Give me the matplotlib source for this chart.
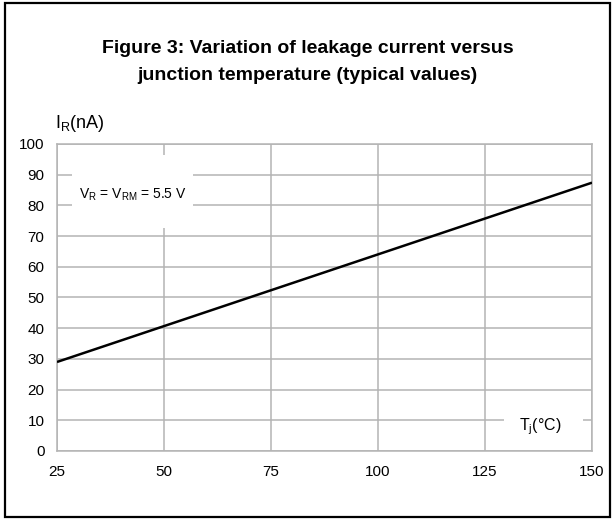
import matplotlib
matplotlib.use("Agg")
import matplotlib.pyplot as plt
from matplotlib.patches import Rectangle

plt.rcParams["font.family"] = ["Liberation Sans", "DejaVu Sans"]
plt.rcParams["mathtext.fontset"] = "custom"
plt.rcParams["mathtext.rm"] = "Liberation Sans"
plt.rcParams["mathtext.it"] = "Liberation Sans"

# data
tj = [25, 150]
ir = [29, 87.4]
x_ticks = [25, 50, 75, 100, 125, 150]
y_ticks = [0, 10, 20, 30, 40, 50, 60, 70, 80, 90, 100]

GRID = "#b4b4b4"

fig = plt.figure(figsize=(6.15, 5.2), dpi=100)
ax = fig.add_axes([0.0927, 0.1327, 0.8699, 0.5904])

ax.plot(tj, ir, color="black", lw=1.8, zorder=3, solid_capstyle="butt")
ax.set_xlim(25, 150)
ax.set_ylim(0, 100)
ax.set_xticks(x_ticks)
ax.set_yticks(y_ticks)
ax.tick_params(length=0, labelsize=11)
ax.tick_params(axis="x", pad=10)
ax.tick_params(axis="y", pad=9)
ax.grid(True, color=GRID, lw=1.1)
ax.set_axisbelow(True)
for sp in ax.spines.values():
    sp.set_color(GRID)
    sp.set_linewidth(1.1)

# white boxes behind the in-plot labels
ax.add_patch(Rectangle((0.028, 0.726), 0.226, 0.238, transform=ax.transAxes,
                       facecolor="white", edgecolor="none", zorder=2))
ax.text(0.141, 0.834, r"V$_\mathrm{R}$ = V$_\mathrm{RM}$ = 5.5 V", transform=ax.transAxes,
        ha="center", va="center", fontsize=10, zorder=4)
ax.add_patch(Rectangle((0.836, 0.04), 0.147, 0.12, transform=ax.transAxes,
                       facecolor="white", edgecolor="none", zorder=2))
ax.text(0.903, 0.078, r"T$_\mathrm{j}$(°C)", transform=ax.transAxes,
        ha="center", va="center", fontsize=11.5, zorder=4)

fig.text(55 / 615, 1 - 124 / 520, r"I$_\mathrm{R}$(nA)", ha="left", va="center", fontsize=13)

fig.text(0.5, 1 - 62 / 520, "Figure 3: Variation of leakage current versus\njunction temperature (typical values)",
         ha="center", va="center", fontsize=14, fontweight="bold", linespacing=1.75)

# frame around the whole figure
fig.patches.append(Rectangle((5 / 615, 3 / 520), 605 / 615, 514 / 520, transform=fig.transFigure,
                             facecolor="none", edgecolor="black", lw=1.6))

fig.savefig("out.png", dpi=100)
